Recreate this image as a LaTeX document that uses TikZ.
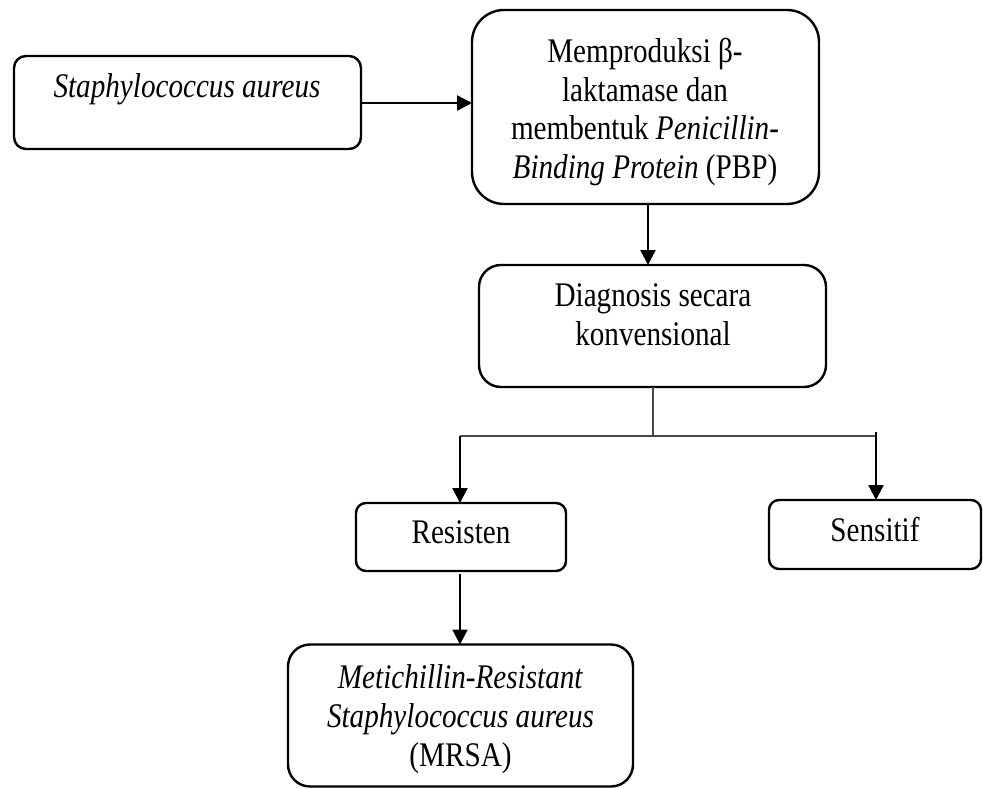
\documentclass[tikz,border=0pt]{standalone}
\usepackage{fontspec}
\setmainfont{Liberation Serif}[FakeStretch=0.845]
\usetikzlibrary{arrows.meta}
\begin{document}
\begin{tikzpicture}[x=1pt,y=-1pt,
  box/.style={draw, line width=2.4pt, inner sep=0pt, outer sep=0pt},
  txt/.style={font=\fontsize{34.5}{38.8}\selectfont, align=center, inner sep=0pt, outer sep=0pt},
  arr/.style={line width=2.3pt, -{Triangle[length=15pt,width=15pt]}},
  thinline/.style={line width=1.5pt, draw=black!72}]
\useasboundingbox (0,0) rectangle (983,789);
% boxes
\node[box, rounded corners=12pt, minimum width=347pt, minimum height=93pt] (A) at (187.5,102.5) {};
\node[box, rounded corners=32pt, minimum width=347pt, minimum height=194pt] (B) at (645.5,107) {};
\node[box, rounded corners=22pt, minimum width=347pt, minimum height=122pt] (C) at (652.5,326) {};
\node[box, rounded corners=10pt, minimum width=210pt, minimum height=68pt] (R) at (461,537) {};
\node[box, rounded corners=10pt, minimum width=212pt, minimum height=69pt] (S) at (875,534.5) {};
\node[box, rounded corners=22pt, minimum width=345pt, minimum height=142pt] (M) at (460.5,715.5) {};
% texts
\node[txt, anchor=base] (At) at (187,98) {\textit{Staphylococcus aureus}};
\node[txt] (Bt) at (645,112) {Memproduksi β-\\laktamase dan\\membentuk \textit{Penicillin-}\\\textit{Binding Protein} (PBP)};
\node[txt] (Ct) at (653,315) {Diagnosis secara\\konvensional};
\node[txt, anchor=base] (Rt) at (461,543) {Resisten};
\node[txt, anchor=base] (St) at (875,541) {Sensitif};
\node[txt] (Mt) at (460.5,719) {\textit{Metichillin-Resistant}\\\textit{Staphylococcus aureus}\\(MRSA)};
% connectors
\coordinate (ab) at (361,103);
\draw[arr] (ab) -- (ab -| B.west);
\coordinate (bc) at (648,204);
\draw[arr] (bc) -- (bc |- C.north);
\coordinate (fork) at (653,436);
\coordinate (forkL) at (460,436);
\coordinate (forkR) at (876,436);
\coordinate (forkRtop) at (876,432);
\draw[thinline] (C.south -| fork) -- (fork);
\draw[thinline] (forkL) -- (forkR);
\draw[arr] (forkL) -- (forkL |- R.north);
\draw[arr] (forkRtop) -- (forkRtop |- S.north);
\coordinate (rm) at (460,574);
\draw[arr] (rm) -- (rm |- M.north);
\end{tikzpicture}
\end{document}
